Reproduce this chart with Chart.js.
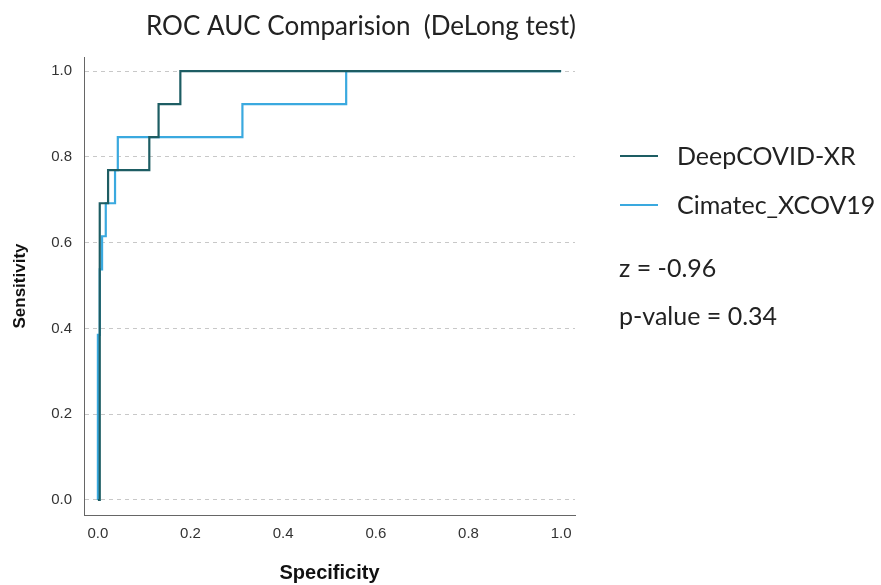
<!DOCTYPE html>
<html>
<head>
<meta charset="utf-8">
<script src="https://cdn.jsdelivr.net/npm/chart.js@4.4.1/dist/chart.umd.min.js"></script>
<style>
  html, body { margin: 0; padding: 0; background: #fff; }
  #wrap { width: 881px; height: 585px; }
</style>
</head>
<body>
<div id="wrap"><canvas id="roc" width="881" height="585"></canvas></div>
<script>
const chartTitle = 'ROC AUC Comparision  (DeLong test)';
const seriesNames = ['DeepCOVID-XR', 'Cimatec_XCOV19'];
const seriesColors = ['#1d5d63', '#3aa9df'];

// ROC curve corners (x = specificity axis, y = sensitivity)
const deepX = [0, 0.004, 0.004, 0.022, 0.022, 0.111, 0.111, 0.131, 0.131, 0.178, 0.178, 1.0];
const deepY = [0, 0, 0.692, 0.692, 0.769, 0.769, 0.846, 0.846, 0.923, 0.923, 1.0, 1.0];

const cimX = [0, 0, 0.004, 0.004, 0.009, 0.009, 0.017, 0.017, 0.037, 0.037, 0.043, 0.043, 0.312, 0.312, 0.536, 0.536, 1.0];
const cimY = [0, 0.385, 0.385, 0.538, 0.538, 0.615, 0.615, 0.692, 0.692, 0.769, 0.769, 0.846, 0.846, 0.923, 0.923, 1.0, 1.0];

const statLines = ['z = -0.96', 'p-value = 0.34'];

const toPoints = (xs, ys) => xs.map((x, i) => ({ x: x, y: ys[i] }));

// legend + stats + title drawn by hand, SPSS-style
const sideText = {
    id: 'sideText',
    afterDraw(chart) {
        const ctx = chart.ctx;
        ctx.save();
        ctx.fillStyle = '#222';
        ctx.textBaseline = 'middle';

        ctx.font = '26px Lato';
        ctx.textAlign = 'center';
        ctx.fillText(chartTitle, 361, 27);

        ctx.textAlign = 'left';
        chart.data.datasets.forEach((ds, i) => {
            const y = 156 + i * 49;
            ctx.strokeStyle = ds.borderColor;
            ctx.lineWidth = 2;
            ctx.beginPath();
            ctx.moveTo(620, y);
            ctx.lineTo(658, y);
            ctx.stroke();
            ctx.font = '25px Lato';
            ctx.fillText(ds.label, 677, y + 1);
        });

        ctx.font = '25px Lato';
        statLines.forEach((t, i) => {
            ctx.fillText(t, 619, 269 + i * 48);
        });
        ctx.restore();
    }
};

const tickFont = { family: 'Liberation Sans', size: 15 };

new Chart(document.getElementById('roc'), {
    type: 'scatter',
    data: {
        datasets: [
            {
                label: seriesNames[0],
                data: toPoints(deepX, deepY),
                borderColor: seriesColors[0],
                showLine: true,
                borderWidth: 2.2,
                pointRadius: 0
            },
            {
                label: seriesNames[1],
                data: toPoints(cimX, cimY),
                borderColor: seriesColors[1],
                showLine: true,
                borderWidth: 2.2,
                pointRadius: 0
            }
        ]
    },
    options: {
        responsive: false,
        animation: false,
        layout: { padding: { top: 57, right: 306, left: 8, bottom: 0 } },
        plugins: {
            legend: { display: false },
            tooltip: { enabled: false }
        },
        scales: {
            x: {
                type: 'linear',
                min: -0.03,
                max: 1.03,
                afterFit: s => { s.height = 70; },
                grid: { display: false, drawTicks: false },
                border: { color: '#666', width: 1 },
                ticks: {
                    stepSize: 0.2,
                    includeBounds: false,
                    padding: 10,
                    color: '#333',
                    font: tickFont,
                    callback: v => v.toFixed(1)
                },
                title: {
                    display: true,
                    text: 'Specificity',
                    color: '#111',
                    font: { family: 'Liberation Sans', size: 20, weight: 'bold' },
                    padding: { top: 0, bottom: 0 }
                }
            },
            y: {
                min: -0.035,
                max: 1.033,
                afterFit: s => { s.width = 76; },
                grid: { color: '#c8c8c8', drawTicks: false },
                border: { color: '#666', width: 1, dash: [4, 4] },
                ticks: {
                    stepSize: 0.2,
                    includeBounds: false,
                    padding: 12,
                    color: '#333',
                    font: tickFont,
                    callback: v => v.toFixed(1)
                },
                title: {
                    display: true,
                    text: 'Sensitivity',
                    color: '#111',
                    font: { family: 'Liberation Sans', size: 17, weight: 'bold' },
                    padding: { top: 2, bottom: 0 }
                }
            }
        }
    },
    plugins: [sideText]
});
</script>
</body>
</html>
